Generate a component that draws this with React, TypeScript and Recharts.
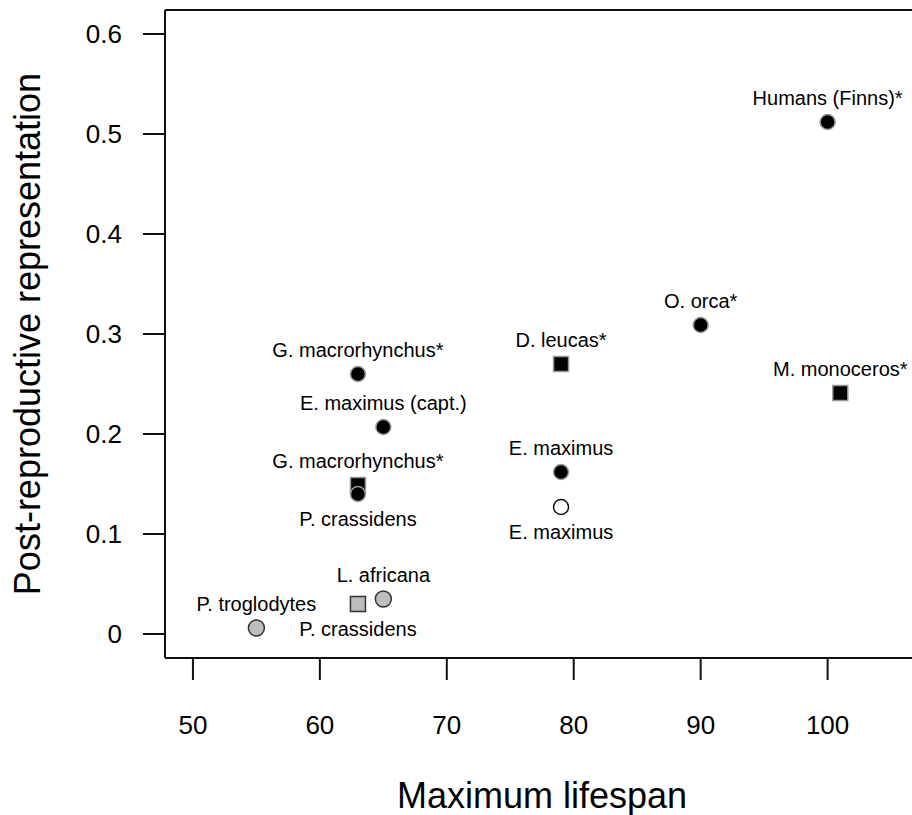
import { ScatterChart, Scatter, XAxis, YAxis, ReferenceLine } from "recharts";

// lifespan (years) vs post-reproductive representation
const blackSquares = [
  { name: "G. macrorhynchus*", lifespan: 63, prr: 0.149 },
  { name: "D. leucas*", lifespan: 79, prr: 0.27 },
  { name: "M. monoceros*", lifespan: 101, prr: 0.241 },
];
const graySquares = [{ name: "P. crassidens", lifespan: 63, prr: 0.03 }];
const grayCircles = [
  { name: "P. troglodytes", lifespan: 55, prr: 0.006 },
  { name: "L. africana", lifespan: 65, prr: 0.035 },
];
const blackCircles = [
  { name: "G. macrorhynchus*", lifespan: 63, prr: 0.26 },
  { name: "E. maximus (capt.)", lifespan: 65, prr: 0.207 },
  { name: "P. crassidens", lifespan: 63, prr: 0.14 },
  { name: "E. maximus", lifespan: 79, prr: 0.162 },
  { name: "O. orca*", lifespan: 90, prr: 0.309 },
  { name: "Humans (Finns)*", lifespan: 100, prr: 0.512 },
];
const openCircles = [{ name: "E. maximus", lifespan: 79, prr: 0.127 }];

const xTicks = [50, 60, 70, 80, 90, 100];
const yTicks = [0, 0.1, 0.2, 0.3, 0.4, 0.5, 0.6];

const FONT = "'Liberation Sans', Arial, Helvetica, sans-serif";

type Kind = "blackSquare" | "graySquare" | "grayCircle" | "blackCircle" | "openCircle";

function makeShape(kind: Kind, labelBelow: string[] = []) {
  return (props: any) => {
    const { cx, cy, payload } = props;
    if (cx == null || cy == null) return null;
    const below = labelBelow.includes(payload.name);
    let mark;
    if (kind === "blackSquare") {
      mark = <rect x={cx - 7.5} y={cy - 7.5} width={15} height={15} fill="#000" stroke="#999" strokeWidth={1.5} />;
    } else if (kind === "graySquare") {
      mark = <rect x={cx - 7.5} y={cy - 7.5} width={15} height={15} fill="#bdbdbd" stroke="#333" strokeWidth={1.5} />;
    } else if (kind === "grayCircle") {
      mark = <circle cx={cx} cy={cy} r={8} fill="#bdbdbd" stroke="#333" strokeWidth={1.5} />;
    } else if (kind === "openCircle") {
      mark = <circle cx={cx} cy={cy} r={7.5} fill="#fff" stroke="#111" strokeWidth={1.5} />;
    } else {
      mark = <circle cx={cx} cy={cy} r={7.5} fill="#000" stroke="#999" strokeWidth={1.5} />;
    }
    return (
      <g>
        {mark}
        <text
          x={cx}
          y={below ? cy + 32 : cy - 17}
          textAnchor="middle"
          fontSize={20}
          fontFamily={FONT}
          fill="#000"
        >
          {payload.name}
        </text>
      </g>
    );
  };
}

const XTitle = (props: any) => {
  const { viewBox } = props;
  return (
    <text
      x={viewBox.x + viewBox.width / 2}
      y={viewBox.y + viewBox.height - 7}
      textAnchor="middle"
      fontSize={36}
      fontFamily={FONT}
      fill="#000"
    >
      Maximum lifespan
    </text>
  );
};

const YTitle = (props: any) => {
  const { viewBox } = props;
  const x = viewBox.x + 40;
  const y = viewBox.y + viewBox.height / 2;
  return (
    <text
      x={x}
      y={y}
      transform={`rotate(-90, ${x}, ${y})`}
      textAnchor="middle"
      fontSize={36}
      fontFamily={FONT}
      fill="#000"
    >
      Post-reproductive representation
    </text>
  );
};

export default function App() {
  const axisStroke = { stroke: "#111", strokeWidth: 2 };
  const tickStyle = { fontSize: 26, fill: "#000", fontFamily: FONT };
  return (
    <div
      style={{
        position: "fixed",
        left: 0,
        top: 0,
        width: 912,
        height: 815,
        overflow: "hidden",
        background: "#fff",
        fontFamily: FONT,
      }}
    >
      <ScatterChart width={935} height={815} margin={{ top: 10, right: 16, left: 0, bottom: 0 }}>
        <XAxis
          type="number"
          dataKey="lifespan"
          domain={[47.8, 107.2]}
          allowDataOverflow
          ticks={xTicks}
          tick={tickStyle}
          tickSize={22}
          tickMargin={36}
          axisLine={axisStroke}
          tickLine={axisStroke}
          height={157}
          label={<XTitle />}
        />
        <YAxis
          type="number"
          dataKey="prr"
          domain={[-0.024, 0.624]}
          allowDataOverflow
          ticks={yTicks}
          tickFormatter={(v: number) => (v === 0 ? "0" : v.toFixed(1))}
          tick={tickStyle}
          tickSize={22}
          tickMargin={21}
          axisLine={axisStroke}
          tickLine={axisStroke}
          width={165}
          label={<YTitle />}
        />
        <ReferenceLine y={0.624} stroke="#111" strokeWidth={2} />
        <Scatter data={blackSquares} isAnimationActive={false} shape={makeShape("blackSquare")} />
        <Scatter
          data={graySquares}
          isAnimationActive={false}
          shape={makeShape("graySquare", ["P. crassidens"])}
        />
        <Scatter data={grayCircles} isAnimationActive={false} shape={makeShape("grayCircle")} />
        <Scatter
          data={blackCircles}
          isAnimationActive={false}
          shape={makeShape("blackCircle", ["P. crassidens"])}
        />
        <Scatter
          data={openCircles}
          isAnimationActive={false}
          shape={makeShape("openCircle", ["E. maximus"])}
        />
      </ScatterChart>
    </div>
  );
}
